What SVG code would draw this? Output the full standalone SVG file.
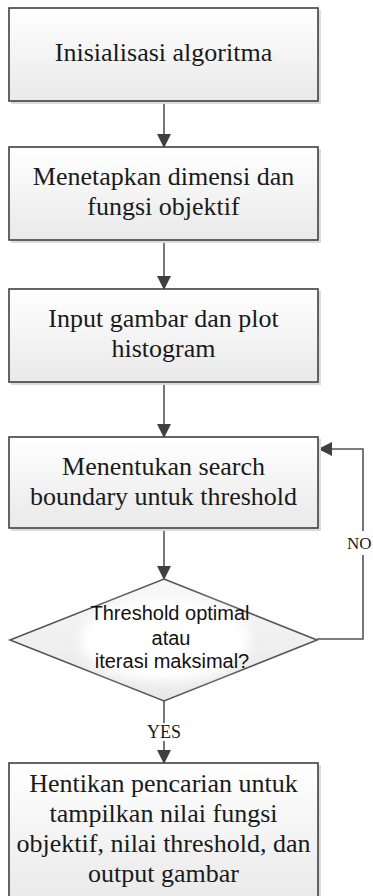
<svg xmlns="http://www.w3.org/2000/svg" width="373" height="896" viewBox="0 0 373 896">
<defs>
<linearGradient id="gb" x1="0" y1="0" x2="0" y2="1">
<stop offset="0" stop-color="#ffffff"/>
<stop offset="1" stop-color="#e9e9e9"/>
</linearGradient>
<linearGradient id="gd" x1="0" y1="0" x2="0" y2="1">
<stop offset="0" stop-color="#f7f7f7"/>
<stop offset="1" stop-color="#e8e8e8"/>
</linearGradient>
<filter id="blur" x="-30%" y="-30%" width="160%" height="160%">
<feGaussianBlur stdDeviation="6"/>
</filter>
<marker id="ah" viewBox="0 0 14 14" refX="13" refY="7" markerWidth="14" markerHeight="14" markerUnits="userSpaceOnUse" orient="auto">
<path d="M0,0 L14,7 L0,14 Z" fill="#404040"/>
</marker>
</defs>
<style>
.box{fill:url(#gb);stroke:#404040;stroke-width:1.6}
.shadow{fill:#dcdcdc}
.t{font-family:"Liberation Serif","Times New Roman",serif;font-size:26px;fill:#1a1a1a;text-anchor:middle}
.d{font-family:"Liberation Sans",Arial,sans-serif;font-size:20px;fill:#111111;text-anchor:middle}
.lbl{font-family:"Liberation Serif","Times New Roman",serif;font-size:18px;fill:#1a1a1a}
.c{fill:none;stroke:#555555;stroke-width:1.6}
</style>
<rect width="373" height="896" fill="#ffffff"/>

<g id="connectors">
<line class="c" x1="164" y1="101" x2="164" y2="147" marker-end="url(#ah)"/>
<line class="c" x1="164" y1="240" x2="164" y2="289" marker-end="url(#ah)"/>
<line class="c" x1="164" y1="382" x2="164" y2="437" marker-end="url(#ah)"/>
<line class="c" x1="164" y1="528" x2="164" y2="579" marker-end="url(#ah)"/>
<line class="c" x1="164" y1="701" x2="164" y2="723"/>
<line class="c" x1="164" y1="741" x2="164" y2="763" marker-end="url(#ah)"/>
<text class="lbl" x="164" y="738" text-anchor="middle">YES</text>
<polyline class="c" points="317,639 363,639 363,555"/>
<polyline class="c" points="363,531 363,449 319,449" marker-end="url(#ah)"/>
<text class="lbl" x="347" y="549" style="font-size:17px">NO</text>
</g>

<g id="n1">
<rect class="shadow" x="11" y="10" width="310" height="94"/>
<rect class="box" x="9" y="8" width="309" height="93"/>
<text class="t" x="163.5" y="61">Inisialisasi algoritma</text>
</g>

<g id="n2">
<rect class="shadow" x="11" y="149" width="310" height="94"/>
<rect class="box" x="9" y="147" width="309" height="93"/>
<text class="t" x="163.5" y="185">Menetapkan dimensi dan</text>
<text class="t" x="163.5" y="215">fungsi objektif</text>
</g>

<g id="n3">
<rect class="shadow" x="11" y="291" width="310" height="94"/>
<rect class="box" x="9" y="289" width="309" height="93"/>
<text class="t" x="163.5" y="327">Input gambar dan plot</text>
<text class="t" x="163.5" y="357">histogram</text>
</g>

<g id="n4">
<rect class="shadow" x="11" y="439" width="310" height="92"/>
<rect class="box" x="9" y="437" width="309" height="91"/>
<text class="t" x="163.5" y="475">Menentukan search</text>
<text class="t" x="163.5" y="505">boundary untuk threshold</text>
</g>

<g id="n5">
<polygon points="164,579 317,640 164,701 10,640" fill="url(#gd)" stroke="#555555" stroke-width="1.6"/>
<ellipse cx="165" cy="640" rx="85" ry="42" fill="#ffffff" filter="url(#blur)"/>
<text class="d" x="170" y="620">Threshold optimal</text>
<text class="d" x="171" y="645">atau</text>
<text class="d" x="172" y="668">iterasi maksimal?</text>
</g>

<g id="n6">
<rect class="shadow" x="11" y="765" width="310" height="140"/>
<rect class="box" x="9" y="763" width="309" height="140"/>
<text class="t" x="163.5" y="792">Hentikan pencarian untuk</text>
<text class="t" x="163.5" y="822">tampilkan nilai fungsi</text>
<text class="t" x="163.5" y="852">objektif, nilai threshold, dan</text>
<text class="t" x="163.5" y="882">output gambar</text>
</g>
</svg>
